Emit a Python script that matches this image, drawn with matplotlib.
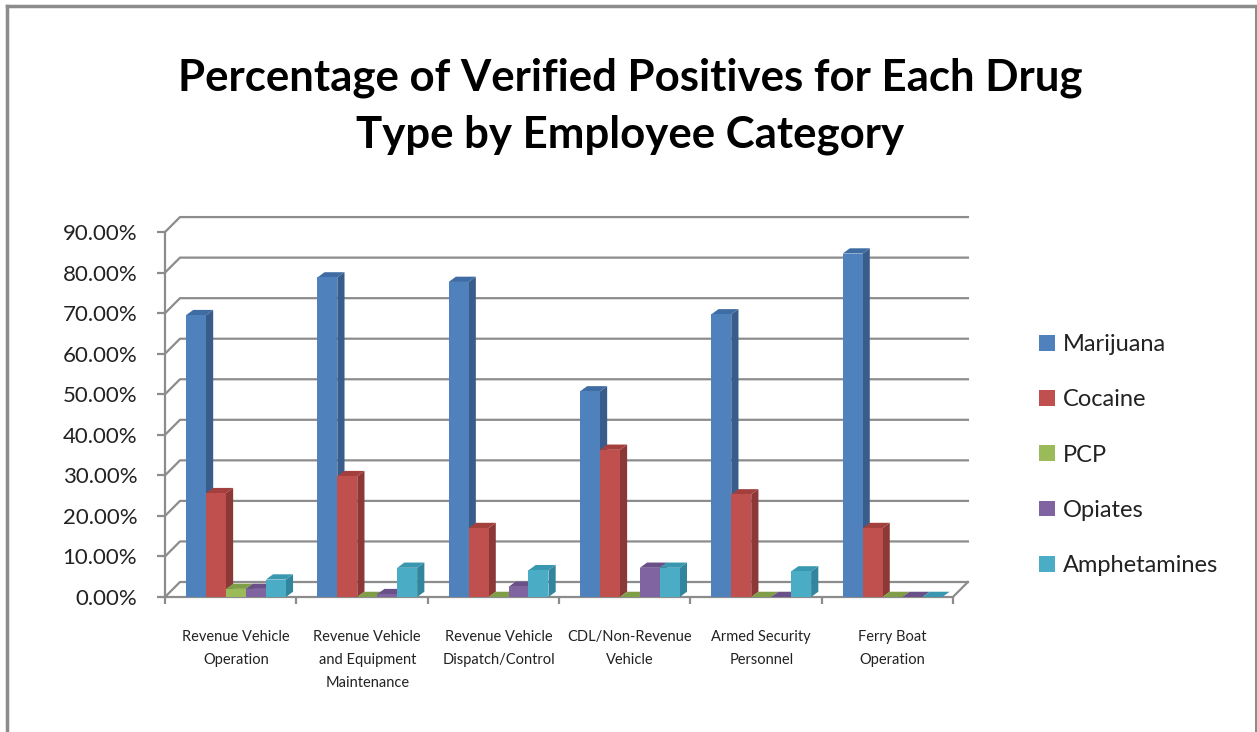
import numpy as np
import matplotlib
matplotlib.use('Agg')
import matplotlib.pyplot as plt
from matplotlib.patches import Polygon, Patch
from matplotlib.lines import Line2D

plt.rcParams['font.family'] = ['Lato', 'DejaVu Sans']

# data
categories = ['Revenue Vehicle\nOperation',
              'Revenue Vehicle\nand Equipment\nMaintenance',
              'Revenue Vehicle\nDispatch/Control',
              'CDL/Non-Revenue\nVehicle',
              'Armed Security\nPersonnel',
              'Ferry Boat\nOperation']
series = ['Marijuana', 'Cocaine', 'PCP', 'Opiates', 'Amphetamines']
marijuana = [69.5, 78.8, 77.7, 50.7, 69.7, 84.7]
cocaine = [25.6, 29.8, 17.0, 36.3, 25.3, 17.0]
pcp = [2.0, 0.0, 0.0, 0.0, 0.0, 0.0]
opiates = [2.0, 0.7, 2.5, 7.2, 0.0, 0.0]
amphetamines = [4.3, 7.2, 6.6, 7.2, 6.3, 0.0]
values = [marijuana, cocaine, pcp, opiates, amphetamines]
yticks = [0, 10, 20, 30, 40, 50, 60, 70, 80, 90]

front = ['#4F81BD', '#C0504D', '#9BBB59', '#8064A2', '#4BACC6']
side = ['#385D8A', '#8C3836', '#71893F', '#5C4776', '#31859C']
top = ['#3F6CA3', '#A3403D', '#7F9E47', '#6A5088', '#3A97B0']

fig = plt.figure(figsize=(12.57, 7.32), dpi=100)
ax = fig.add_axes([165/1257, (732-597)/732, 805/1257, (597-211.8)/732])
ax.set_xlim(-0.5, 5.63)
ax.set_ylim(0, 95)

# 3d look offsets (data units)
w = 0.152
dx, dy = 0.055, 1.3
wdx, wdy = 0.114, 3.7
grid_c = '#8C8C8C'

# back wall gridlines
for yv in yticks:
    ax.plot([-0.5, -0.5 + wdx, 5.5 + wdx], [yv, yv + wdy, yv + wdy],
            color=grid_c, lw=1.6, zorder=1, clip_on=False)
# floor edges and front axis
ax.plot([-0.5, 5.5, 5.5 + wdx], [0, 0, wdy], color=grid_c, lw=1.6, zorder=1, clip_on=False)
ax.plot([-0.5, -0.5], [0, 90], color=grid_c, lw=1.6, zorder=1, clip_on=False)

# bars
x = np.arange(len(categories))
for k, vals in enumerate(values):
    x0 = x - 0.5 + 0.16 + k * w
    for i in range(len(categories)):
        v = vals[i]
        xl = x0[i]
        z = 2 + k * 3
        ax.add_patch(Polygon([(xl + w, 0), (xl + w + dx, dy), (xl + w + dx, v + dy), (xl + w, v)],
                             closed=True, facecolor=side[k], edgecolor='none', zorder=z))
        ax.add_patch(Polygon([(xl, v), (xl + dx, v + dy), (xl + w + dx, v + dy), (xl + w, v)],
                             closed=True, facecolor=top[k], edgecolor='none', zorder=z + 1))
    ax.bar(x0, vals, width=w, align='edge', color=front[k], edgecolor='none', zorder=2 + k * 3 + 2)

# axes styling
for s in ax.spines.values():
    s.set_visible(False)
ax.set_yticks(yticks)
ax.set_yticklabels([f'{t:.2f}%' for t in yticks], fontsize=16, color='#222222')
ax.tick_params(axis='y', length=6, width=1.6, color=grid_c, pad=14)
ax.set_xticks(np.arange(-0.5, 6.0, 1.0))
ax.set_xticklabels([])
ax.set_xticks(x + 0.04, minor=True)
ax.set_xticklabels(categories, minor=True, fontsize=10.5, color='#222222', linespacing=1.8)
ax.tick_params(axis='x', which='major', length=5, width=1.6, color=grid_c, direction='out')
ax.tick_params(axis='x', which='minor', length=0, pad=24)
ax.set_facecolor('none')

# title
fig.text(630/1257, 1 - 106/732,
         'Percentage of Verified Positives for Each Drug\nType by Employee Category',
         ha='center', va='center', fontsize=31.5, fontweight='bold', linespacing=1.5)

# legend
handles = [Patch(facecolor=c, edgecolor='none') for c in front]
fig.legend(handles, series, loc='center left', bbox_to_anchor=(1018/1257, 1 - 455/732),
           frameon=False, fontsize=17, labelspacing=1.45, handlelength=0.65,
           handleheight=0.65, handletextpad=0.35, labelcolor='#222222')

# outer frame
fig.add_artist(Line2D([7/1257, 7/1257], [0, 1 - 6/732], color='#8C8C8C', lw=2.5))
fig.add_artist(Line2D([7/1257, 1256/1257], [1 - 6/732, 1 - 6/732], color='#8C8C8C', lw=2.5))
fig.add_artist(Line2D([1256/1257, 1256/1257], [0, 1 - 6/732], color='#8C8C8C', lw=1.5))

plt.savefig('out.png', dpi=100)
